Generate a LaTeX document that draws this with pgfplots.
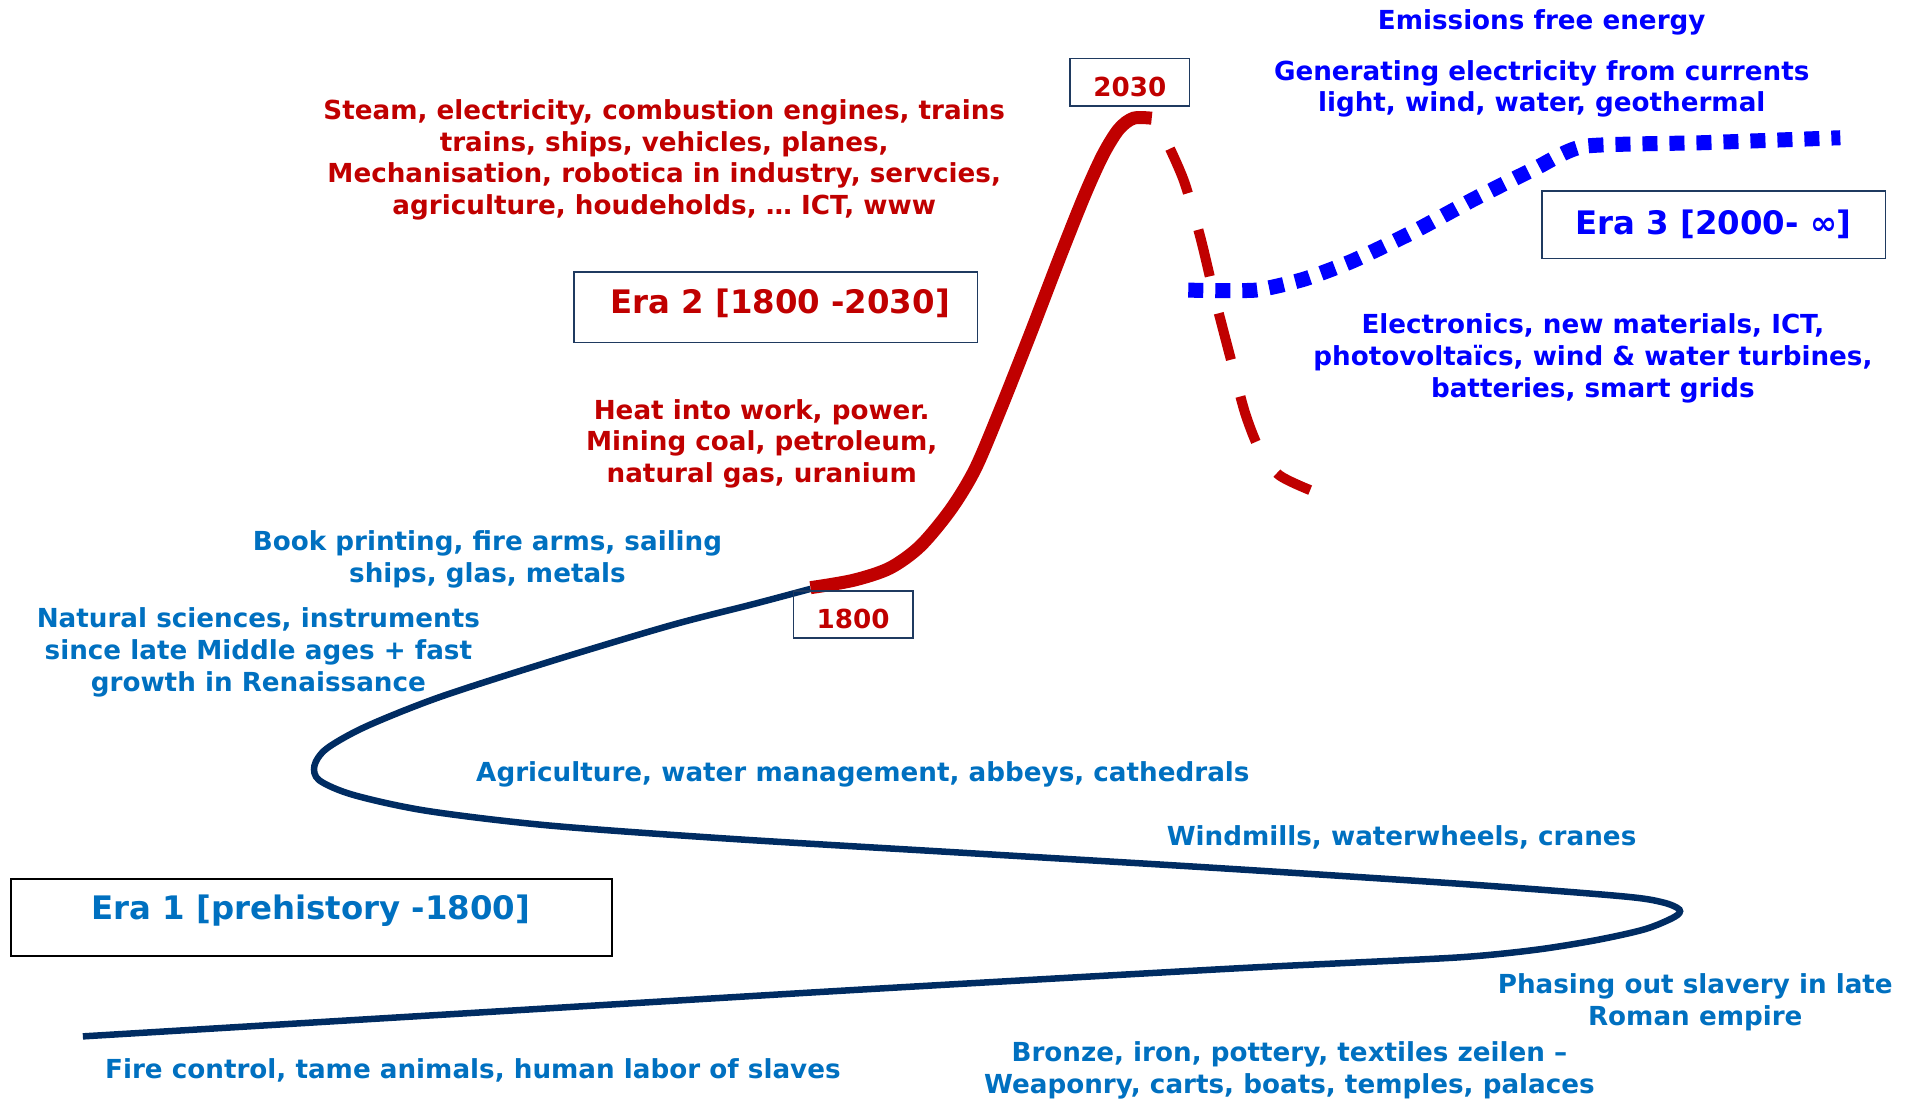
\documentclass[border=0pt]{standalone}
\usepackage{pgfplots}
\pgfplotsset{compat=1.18}
\usepackage{fontspec}
\setmainfont{DejaVu Sans}
\definecolor{navy}{HTML}{002C62}
\definecolor{tblue}{HTML}{0070C0}
\definecolor{dred}{HTML}{C00000}
\definecolor{pblue}{HTML}{0000FF}
\definecolor{boxc}{HTML}{1F3A60}
\newcommand\fs{\fontsize{26.3}{31.7}\selectfont\bfseries}
\newcommand\fe{\fontsize{32.5}{38}\selectfont\bfseries}
\begin{document}
\begin{tikzpicture}
\begin{axis}[
  width=1911bp, height=1101bp, scale only axis,
  xmin=0, xmax=1568, ymin=0, ymax=903, y dir=reverse,
  hide axis, clip=false,
]
% Era 1 (navy)
\addplot[navy, line width=6.5bp, smooth, tension=0.5] coordinates {
 (68,850) (400,830) (700,812) (1000,795) (1100,790) (1200,785) (1260,779) (1310,771) (1350,762)
 (1374,752) (1378,746) (1364,740) (1330,735) (1200,725) (1000,712) (800,700) (600,688) (450,677)
 (350,665) (290,652) (262,640) (258,628) (268,614) (300,596) (360,572) (450,543) (550,513) (620,495) (665,483)
};
% Era 2 solid (red)
\addplot[dred, line width=13bp, smooth, tension=0.5] coordinates {
 (665,482) (700,476) (730,466) (755,448) (780,418) (800,385) (820,338) (845,275) (870,210)
 (890,160) (905,127) (918,106) (930,97) (945,97)
};
% Era 2 dashed decline
\addplot[dred, line width=10bp, smooth, tension=0.5, dash pattern=on 48bp off 38bp] coordinates {
 (960,122) (972,150) (985,195) (997,245) (1010,295) (1022,340) (1035,372) (1050,390) (1075,402)
};
% Era 3 dotted (blue)
\addplot[pblue, line width=15bp, smooth, tension=0.35, dash pattern=on 15bp off 12bp] coordinates {
 (975,238) (1030,238) (1070,229) (1110,214) (1160,190) (1210,163) (1260,138) (1300,120)
 (1400,117) (1510,113)
};
% boxes
\draw[black, line width=1.8bp] (axis cs:9,721) rectangle (axis cs:502,784);
\draw[boxc, line width=1.8bp] (axis cs:471,223) rectangle (axis cs:802,281);
\draw[boxc, line width=1.8bp] (axis cs:1265,157) rectangle (axis cs:1547,212);
\draw[boxc, line width=1.8bp] (axis cs:651,485) rectangle (axis cs:749,523);
\draw[boxc, line width=1.8bp] (axis cs:878,48) rectangle (axis cs:976,87);
% labels
\node[text=dred, font=\fs] at (axis cs:927,71) {2030};
\node[text=dred, font=\fs] at (axis cs:700,508) {1800};
\node[text=dred, font=\fe] at (axis cs:640,249) {Era 2 [1800 -2030]};
\node[text=pblue, font=\fe] at (axis cs:1406,184) {Era 3 [2000- ∞]};
\node[text=tblue, font=\fe] at (axis cs:255,747) {Era 1 [prehistory -1800]};
\node[text=pblue, font=\fs] at (axis cs:1265,18) {Emissions free energy};
\node[text=pblue, font=\fs, align=center] at (axis cs:1265,73) {Generating electricity from currents\\light, wind, water, geothermal};
\node[text=pblue, font=\fs, align=center] at (axis cs:1307,294) {Electronics, new materials, ICT,\\photovoltaïcs, wind \& water turbines,\\batteries, smart grids};
\node[text=dred, font=\fs, align=center] at (axis cs:545,131) {Steam, electricity, combustion engines, trains\\trains, ships, vehicles, planes,\\Mechanisation, robotica in industry, servcies,\\agriculture, houdeholds, … ICT, www};
\node[text=dred, font=\fs, align=center] at (axis cs:625,364) {Heat into work, power.\\Mining coal, petroleum,\\natural gas, uranium};
\node[text=tblue, font=\fs, align=center] at (axis cs:400,459) {Book printing, fire arms, sailing\\ships, glas, metals};
\node[text=tblue, font=\fs, align=center] at (axis cs:212,535) {Natural sciences, instruments\\since late Middle ages + fast\\growth in Renaissance};
\node[text=tblue, font=\fs] at (axis cs:708,635) {Agriculture, water management, abbeys, cathedrals};
\node[text=tblue, font=\fs] at (axis cs:1150,687) {Windmills, waterwheels, cranes};
\node[text=tblue, font=\fs, align=center] at (axis cs:1391,822) {Phasing out slavery in late\\Roman empire};
\node[text=tblue, font=\fs] at (axis cs:388,878) {Fire control, tame animals, human labor of slaves};
\node[text=tblue, font=\fs, align=center] at (axis cs:1058,878) {Bronze, iron, pottery, textiles zeilen –\\Weaponry, carts, boats, temples, palaces};
\end{axis}
\pgfresetboundingbox
\useasboundingbox (0,0) rectangle (1911bp,1101bp);
\end{tikzpicture}
\end{document}
